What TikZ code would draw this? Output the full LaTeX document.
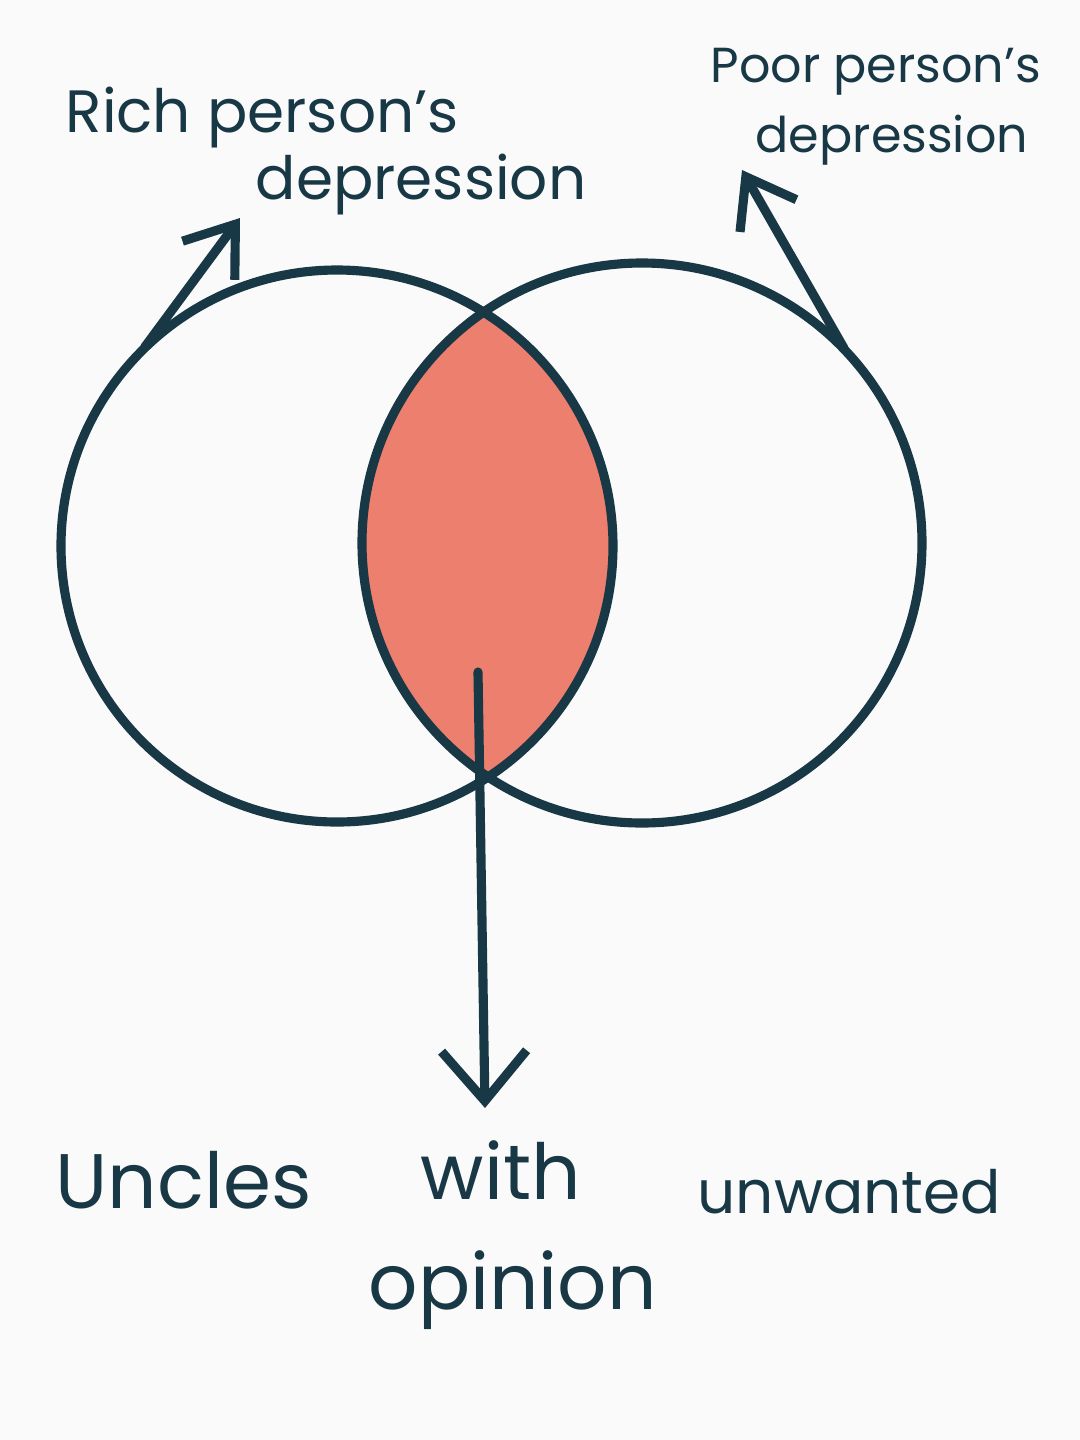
\documentclass[tikz,border=0pt]{standalone}
\usepackage{fontspec}
\setmainfont{Poppins}
\usetikzlibrary{positioning}
\usetikzlibrary{arrows.meta}
\definecolor{ink}{RGB}{24,56,70}
\definecolor{salmon}{RGB}{236,127,110}
\definecolor{paper}{RGB}{250,250,250}

\begin{document}
\begin{tikzpicture}
  \tikzset{myline/.style={draw=ink, line width=2.6pt}};
  \tikzset{myarrow/.style={-{Straight Barb[length=0.45cm,width=0.65cm]}, draw=ink, line width=2.6pt, line cap=round}};
  \tikzset{bigarrow/.style={myarrow, -{Straight Barb[length=0.5cm,width=0.85cm]}}};
  \tikzset{mytext/.style={text=ink, inner sep=0pt, anchor=west, font=\fontsize{17}{19}\selectfont}};
  \tikzset{smalltext/.style={mytext, font=\fontsize{14}{16}\selectfont}};
  \tikzset{bigtext/.style={mytext, font=\fontsize{22}{24}\selectfont}};
  \fill[paper] (0,0) rectangle (10.8,-14.4);
  \useasboundingbox (0,0) rectangle (10.8,-14.4);

  \node[circle, minimum size=5.52cm, inner sep=0pt] (rich) at (3.37,-5.46) {};
  \node[circle, minimum size=5.60cm, inner sep=0pt] (poor) at (6.42,-5.43) {};

  % shaded overlap
  \begin{scope}
    \clip (rich.center) circle (2.76);
    \fill[salmon] (poor.center) circle (2.80);
  \end{scope}
  \draw[myline] (rich.center) circle (2.76);
  \draw[myline] (poor.center) circle (2.80);

  \node[mytext] (rich1) at (0.65,-1.18) {Rich person's};
  \node[mytext] (rich2) at (2.55,-1.85) {depression};
  \node[smalltext] (poor1) at (7.10,-0.72) {Poor person's};
  \node[smalltext] (poor2) at (7.55,-1.40) {depression};

  \node[bigtext] (uncles) at (0.55,-11.80) {Uncles};
  \node[bigtext] (with) at (4.20,-11.70) {with};
  \node[mytext] (unwanted) at (6.97,-11.92) {unwanted};
  \node[bigtext] (opinion) at (3.68,-12.90) {opinion};

  \coordinate (richtip) at (2.40,-2.18);
  \coordinate (poortip) at (7.42,-1.70);
  \coordinate (overlap) at (4.78,-6.72);
  \coordinate (downtip) at (4.85,-11.08);

  \draw [myarrow] (rich.134) -- (richtip);
  \draw [myarrow] (poor.44) -- (poortip);
  \draw [bigarrow] (overlap) -- (downtip);

\end{tikzpicture}
\end{document}
